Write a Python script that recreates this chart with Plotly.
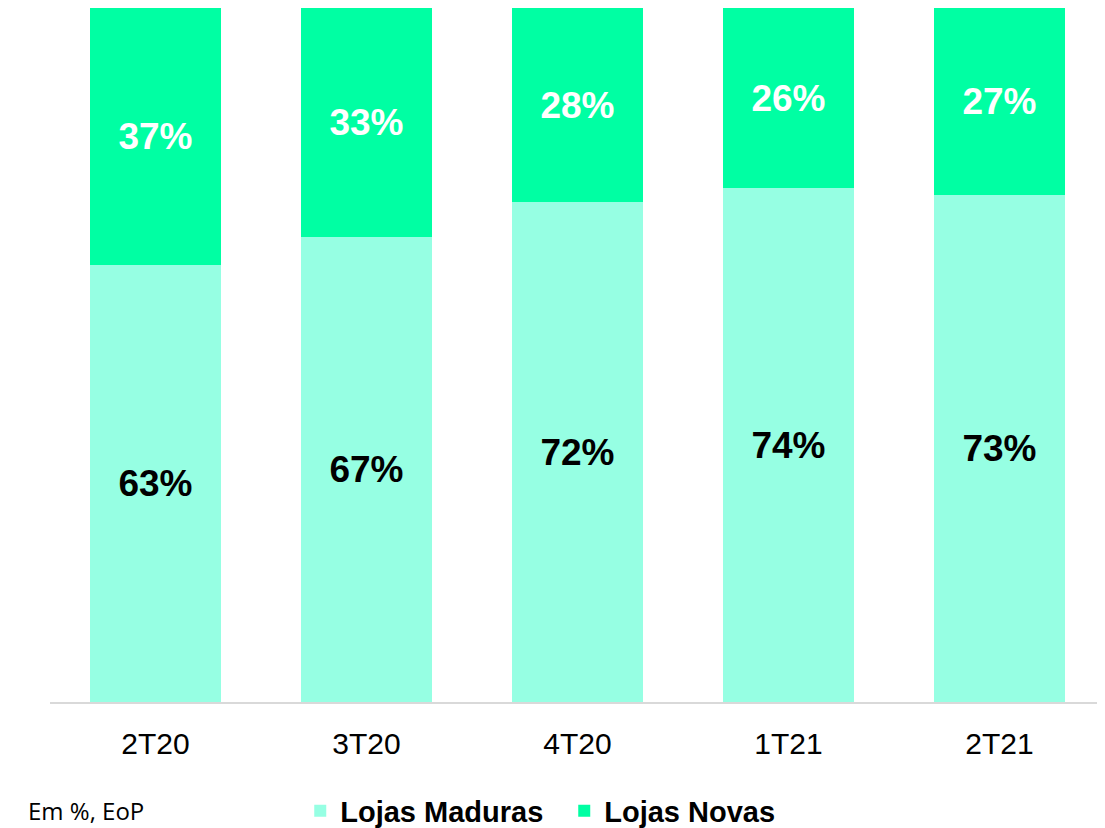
import plotly.graph_objects as go

categories = ["2T20", "3T20", "4T20", "1T21", "2T21"]
lojas_maduras = [63, 67, 72, 74, 73]
lojas_novas = [37, 33, 28, 26, 27]

COLOR_MADURAS = "#96FFE3"
COLOR_NOVAS = "#00FFA3"
FONT = "Liberation Sans, Arial, sans-serif"

fig = go.Figure()
fig.add_trace(go.Bar(
    name="Lojas Maduras", x=categories, y=lojas_maduras,
    marker=dict(color=COLOR_MADURAS, line=dict(width=0)),
    texttemplate="%{y:.0f}%", textposition="inside", insidetextanchor="middle",
    textfont=dict(family=FONT, size=37, color="black", weight="bold"),
    hoverinfo="skip",
))
fig.add_trace(go.Bar(
    name="Lojas Novas", x=categories, y=lojas_novas,
    marker=dict(color=COLOR_NOVAS, line=dict(width=0)),
    texttemplate="%{y:.0f}%", textposition="inside", insidetextanchor="middle",
    textfont=dict(family=FONT, size=37, color="white", weight="bold"),
    hoverinfo="skip",
))

fig.update_layout(
    barmode="stack",
    bargap=0.379,
    width=1097, height=820,
    margin=dict(l=42, r=0, t=0, b=126, autoexpand=False),
    paper_bgcolor="white", plot_bgcolor="white",
    font=dict(family=FONT, color="black"),
    xaxis=dict(
        showline=True, linecolor="#D9D9D9", linewidth=1.5,
        showgrid=False, zeroline=False, ticks="",
        tickfont=dict(family=FONT, size=30, color="black"),
        ticklabelstandoff=14, automargin=False,
    ),
    yaxis=dict(range=[0, 100], visible=False, showgrid=False, zeroline=False, automargin=False),
    showlegend=True,
    legend=dict(
        orientation="h", x=0.2372, xanchor="left", y=-0.157, yanchor="middle",
        font=dict(family=FONT, size=29, color="black", weight="bold"),
        entrywidth=219, entrywidthmode="pixels",
        traceorder="normal", itemclick=False, itemdoubleclick=False,
        bgcolor="rgba(0,0,0,0)",
    ),
    annotations=[dict(
        text="Em %, EoP", xref="paper", yref="paper",
        x=-0.0225, xanchor="left", y=-0.157, yanchor="middle",
        showarrow=False, font=dict(family="Open Sans, sans-serif", size=24, color="black"),
    )],
)

fig.write_html("out.html", config={"displayModeBar": False})
